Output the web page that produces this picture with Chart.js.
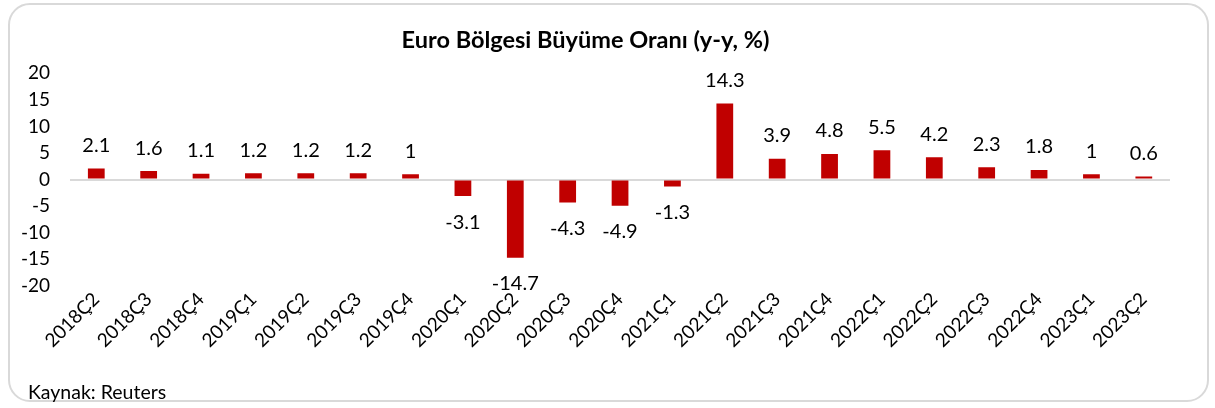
<!DOCTYPE html>
<html>
<head>
<meta charset="utf-8">
<script src="https://cdn.jsdelivr.net/npm/chart.js@4.4.0/dist/chart.umd.min.js"></script>
<style>
  html, body { margin: 0; padding: 0; background: #fff; }
  #kutu { position: relative; width: 1215px; height: 408px; }
  #cerceve { position: absolute; left: 8px; top: 3px; width: 1201px; height: 399px;
             border: 2px solid #d9d9d9; border-radius: 22px; box-sizing: border-box; }
  #kaynak { position: absolute; left: 28px; top: 380px; font: 19.5px Lato, sans-serif; color: #000; }
  canvas { position: absolute; left: 0; top: 0; }
</style>
</head>
<body>
<div id="kutu">
  <div id="cerceve"></div>
  <canvas id="grafik" width="1215" height="408"></canvas>
  <div id="kaynak">Kaynak: Reuters</div>
</div>
<script>
// ── Veriler ─────────────────────────────────────────
const donemler = [
  '2018Ç2','2018Ç3','2018Ç4','2019Ç1','2019Ç2','2019Ç3','2019Ç4',
  '2020Ç1','2020Ç2','2020Ç3','2020Ç4','2021Ç1','2021Ç2','2021Ç3',
  '2021Ç4','2022Ç1','2022Ç2','2022Ç3','2022Ç4','2023Ç1','2023Ç2',
];
const buyume = [2.1, 1.6, 1.1, 1.2, 1.2, 1.2, 1, -3.1, -14.7, -4.3, -4.9, -1.3, 14.3, 3.9, 4.8, 5.5, 4.2, 2.3, 1.8, 1, 0.6];
const baslik = 'Euro Bölgesi Büyüme Oranı (y-y, %)';

const FONT = 'Lato';

// çubuk üstü / altı değer etiketleri
const degerEtiketleri = {
  id: 'degerEtiketleri',
  afterDatasetsDraw(chart) {
    const { ctx } = chart;
    const meta = chart.getDatasetMeta(0);
    ctx.save();
    ctx.font = `20px ${FONT}`;
    ctx.fillStyle = '#000';
    ctx.textAlign = 'center';
    ctx.textBaseline = 'middle';
    meta.data.forEach((bar, i) => {
      const v = buyume[i];
      const y = v >= 0 ? bar.y - 23 : bar.y + 26;
      ctx.fillText(String(v), bar.x, y);
    });
    ctx.restore();
  }
};

new Chart(document.getElementById('grafik'), {
  type: 'bar',
  data: {
    labels: donemler,
    datasets: [{
      data: buyume,
      backgroundColor: '#c00000',
      borderWidth: 0,
      barPercentage: 0.32,
      categoryPercentage: 1,
    }],
  },
  options: {
    responsive: false, animation: false,
    layout: { padding: { left: 1, right: 45, top: 26, bottom: 54 } },
    plugins: {
      legend: { display: false },
      tooltip: { enabled: false },
      title: { display: true, text: baslik, color: '#000',
               font: { family: FONT, size: 23.5, weight: 'bold' }, padding: { top: 0, bottom: 19 } },
    },
    scales: {
      x: {
        ticks: { color: '#000', font: { family: FONT, size: 19 }, maxRotation: 45, minRotation: 45, autoSkip: false, padding: 2 },
        grid: { display: false, drawTicks: false },
        border: { display: false },
      },
      y: {
        min: -20, max: 20,
        ticks: { stepSize: 5, color: '#000', font: { family: FONT, size: 19 }, padding: 20 },
        grid: { drawTicks: false, lineWidth: 2, color: c => c.tick && c.tick.value === 0 ? '#d9d9d9' : 'transparent' },
        border: { display: false },
      },
    },
  },
  plugins: [degerEtiketleri],
});
</script>
</body>
</html>
